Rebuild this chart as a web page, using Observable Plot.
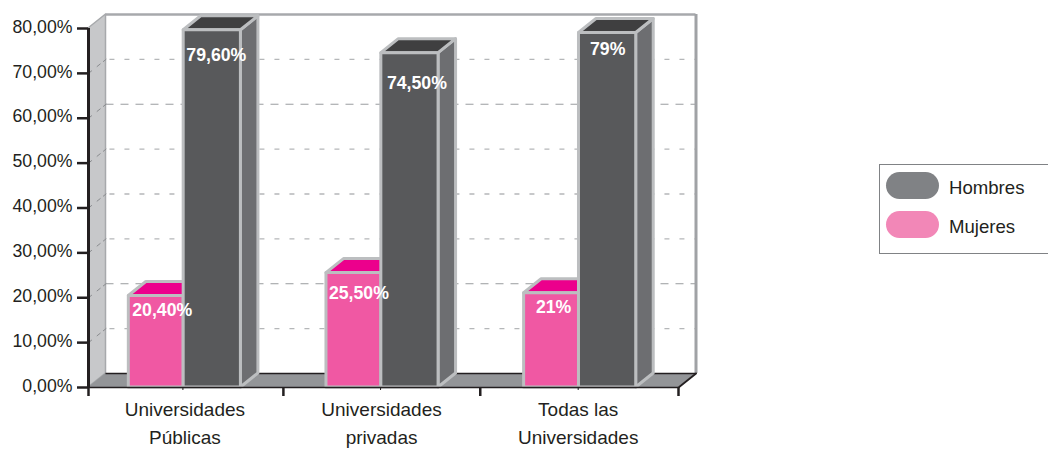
<!DOCTYPE html>
<html><head><meta charset="utf-8">
<script src="https://cdn.jsdelivr.net/npm/d3@7"></script>
<script src="https://cdn.jsdelivr.net/npm/@observablehq/plot@0.6"></script>
<style>
html,body{margin:0;padding:0;background:#fff;overflow:hidden;width:1048px;height:449px}
#root{position:relative;width:1048px;height:449px;font-family:"Liberation Sans",Arial,sans-serif;color:#231f20}
svg{display:block}
#legend{position:absolute;left:879px;top:164px;width:190px;height:88px;border:1.5px solid #808285;box-sizing:content-box}
.sw{position:absolute;left:6px;width:53px;height:27px;border-radius:14px}
.lb{position:absolute;left:69px;font-size:18.6px;line-height:27px;margin-top:1.5px}
</style></head>
<body><div id="root"></div>
<script>
const categories = ["Universidades\nPúblicas", "Universidades\nprivadas", "Todas las\nUniversidades"];
const hombres = [79.6, 74.5, 79];
const mujeres = [20.4, 25.5, 21];
const hombresLabels = ["79,60%", "74,50%", "79%"];
const mujeresLabels = ["20,40%", "25,50%", "21%"];
const yTicks = [0, 10, 20, 30, 40, 50, 60, 70, 80];
const legendNames = ["Hombres", "Mujeres"];
const legendColors = ["#808285", "#f287b7"];

// Styling and projection constants
const DX = 0.089, DY = 3.12;            // oblique depth, in scale units
const slot = [0, 1.005, 2.01];          // left edge of each group's bars
const pinkX = [0.205, 0.484], darkX = [0.484, 0.775];
const darkLabelAt = [0.65, 0.665, 0.63], pinkLabelAt = [0.375, 0.37, 0.355];
const darkLabelDy = [25, 30, 16], pinkLabelDy = [14, 20, 14];
const boundaryTicks = [0, 0.991, 1.992, 3];
const edge = "#bcbec0";

const faces = [];
function face(id, fill, pts) {
  pts.forEach(([x, y1, y2]) => faces.push({id, fill, x, y1, y2}));
}
categories.forEach((c, i) => {
  const a = slot[i] + pinkX[0], b = slot[i] + pinkX[1], v = mujeres[i];
  face("pt" + i, "#ec008c", [[a, v, v], [a + DX, v, v + DY], [b, v, v + DY], [b + DX, v + DY, v + DY]]);
  face("pf" + i, "#f058a3", [[a, 0, v], [b, 0, v]]);
  const p = slot[i] + darkX[0], q = slot[i] + darkX[1], w = hombres[i];
  face("ds" + i, "#6d6e71", [[q, 0, w], [q + DX, DY, w + DY]]);
  face("dt" + i, "#3f3f40", [[p, w, w], [p + DX, w, w + DY], [q, w, w + DY], [q + DX, w + DY, w + DY]]);
  face("df" + i, "#58595b", [[p, 0, w], [q, 0, w]]);
});

const gridLight = [10, 30, 40, 50, 70], gridDark = [20, 60];
const slants = yTicks.slice(1, -1).flatMap(v => [{v, x: 0, y: v}, {v, x: DX, y: v + DY}]);
const num = v => v.toFixed(2).replace(".", ",") + "%";
const valueLabel = (v, i, text, at, off) =>
  Plot.text([{x: slot[i] + at, y: v, t: text}], {x: "x", y: "y", text: "t", dy: off, fill: "#fff", fontWeight: "bold", fontSize: 17.7});

const chart = Plot.plot({
  width: 1048, height: 449,
  marginLeft: 88, marginRight: 370, marginTop: 28, marginBottom: 62,
  x: {domain: [0, 3], range: [88, 678]},
  y: {domain: [0, 80], range: [387, 28]},
  style: {fontFamily: '"Liberation Sans", Arial, sans-serif', fontSize: "17.7px", color: "#231f20", background: "transparent", overflow: "visible"},
  marks: [
    // back wall grid
    Plot.ruleY(gridLight.map(v => v + DY), {x1: DX + 0.02, x2: 3 + DX, stroke: "#b5b7b9", strokeWidth: 1.3, strokeDasharray: "5 10"}),
    Plot.ruleY(gridDark.map(v => v + DY), {x1: DX, x2: 3 + DX, stroke: "#9a9c9f", strokeWidth: 1, strokeDasharray: "8 7"}),
    // back wall edges
    Plot.ruleY([80 + DY], {x1: DX, x2: 3 + DX, stroke: "#a7a9ac", strokeWidth: 2.5}),
    Plot.ruleX([3 + DX], {y1: DY, y2: 80 + DY, stroke: "#a0a2a5", strokeWidth: 3}),
    // left wall
    Plot.areaY([{x: 0, y1: 0, y2: 80}, {x: DX, y1: DY, y2: 80 + DY}], {x: "x", y1: "y1", y2: "y2", fill: "#c7c8ca", stroke: "#a7a9ac", strokeWidth: 1.5}),
    Plot.line(slants, {x: "x", y: "y", z: "v", stroke: "#8a8c8f", strokeWidth: 1, strokeDasharray: "4 7 4"}),
    // floor
    Plot.areaY([{x: 0, y1: 0, y2: 0}, {x: DX, y1: 0, y2: DY}, {x: 3, y1: 0, y2: DY}, {x: 3 + DX, y1: DY, y2: DY}], {x: "x", y1: "y1", y2: "y2", fill: "#939598"}),
    Plot.ruleY([DY], {x1: DX, x2: 3 + DX, stroke: "#231f20", strokeWidth: 1.5}),
    Plot.line([{x: 3, y: 0}, {x: 3 + DX, y: DY}], {x: "x", y: "y", stroke: "#231f20", strokeWidth: 2}),
    // bars
    Plot.areaY(faces, {x: "x", y1: "y1", y2: "y2", z: "id", fill: d => d.fill, stroke: edge, strokeWidth: 3}),
    // axes
    Plot.ruleY([0], {x1: 0, x2: 3, stroke: "#231f20", strokeWidth: 1.5}),
    Plot.ruleX([0], {y1: 0, y2: 80, stroke: "#231f20", strokeWidth: 3}),
    Plot.axisY({ticks: yTicks, tickSize: 11, tickFormat: () => "", label: null, stroke: "#231f20", strokeWidth: 2.5}),
    Plot.axisY({ticks: yTicks, tickSize: 0, tickPadding: 16, dy: -1.5, tickFormat: num, label: null, fill: "#231f20"}),
    Plot.axisX({ticks: boundaryTicks, tickSize: 9, tickFormat: () => "", label: null, stroke: "#231f20", strokeWidth: 2.5}),
    Plot.axisX({ticks: slot.map(s => s + 0.48), tickSize: 3, tickFormat: () => "", label: null, stroke: "#231f20", strokeWidth: 1}),
    // category labels
    Plot.text(categories, {x: (d, i) => i + 0.49, y: () => 0, text: d => d, fontSize: 19, lineHeight: 1.47, lineAnchor: "top", dy: 9, fill: "#231f20"}),
    // value labels
    ...hombres.map((v, i) => valueLabel(v, i, hombresLabels[i], darkLabelAt[i], darkLabelDy[i])),
    ...mujeres.map((v, i) => valueLabel(v, i, mujeresLabels[i], pinkLabelAt[i], pinkLabelDy[i]))
  ]
});
const root = document.getElementById("root");
root.appendChild(chart);

const legend = document.createElement("div");
legend.id = "legend";
legendNames.forEach((name, i) => {
  const top = 7 + i * 39;
  const s = document.createElement("div");
  s.className = "sw"; s.style.top = top + "px"; s.style.background = legendColors[i];
  const l = document.createElement("div");
  l.className = "lb"; l.style.top = top + "px"; l.textContent = name;
  legend.append(s, l);
});
root.appendChild(legend);
</script>
</body></html>
